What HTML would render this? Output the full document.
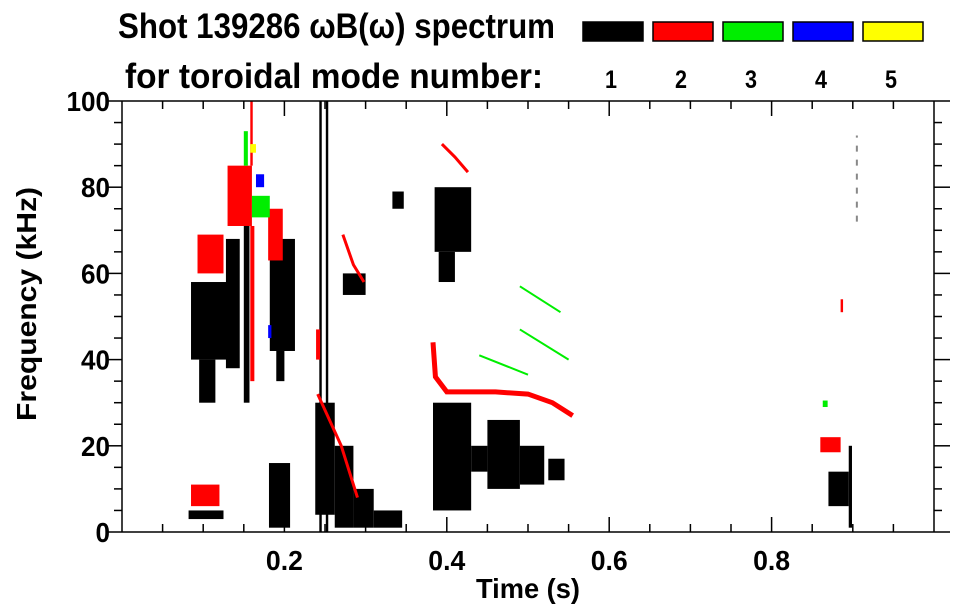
<!DOCTYPE html>
<html><head><meta charset="utf-8">
<style>
html,body{margin:0;padding:0;background:#fff;}
svg{display:block;font-family:"Liberation Sans",Arial,sans-serif;font-weight:bold;}
</style></head>
<body>
<svg id="chart" width="963" height="615" viewBox="0 0 963 615" xmlns="http://www.w3.org/2000/svg">
  <g>
    <text x="118" y="38" font-size="35" textLength="437" lengthAdjust="spacingAndGlyphs">Shot 139286 ωB(ω) spectrum</text>
    <text x="125" y="88" font-size="35" textLength="418" lengthAdjust="spacingAndGlyphs">for toroidal mode number:</text>
  </g>
  <g id="legend"></g>
  <g id="marks"></g>
  <g id="axes"></g>
  <text x="528" y="598" font-size="28" text-anchor="middle" textLength="104" lengthAdjust="spacingAndGlyphs">Time (s)</text>
  <text x="0" y="0" font-size="28" text-anchor="middle" textLength="234" lengthAdjust="spacingAndGlyphs" transform="translate(36,304) rotate(-90)">Frequency (kHz)</text>
</svg>
<script>
// ---- data ----
const modeNumbers = [1, 2, 3, 4, 5];
const modeColors = ["#000000", "#ff0000", "#00ee00", "#0000ff", "#ffff00"];
const xTicks = [0.2, 0.4, 0.6, 0.8];
const yTicks = [0, 20, 40, 60, 80, 100];
// rectangular regions of spectral power [t0, t1] s, [f0, f1] kHz, with mode number
const patchT0 = [0.085,0.095,0.128,0.150,0.182,0.190,0.082,0.181,0.243,0.251,0.238,0.262,0.285,0.310,0.272,0.333,0.385,0.390,0.383,0.430,0.450,0.490,0.525,0.870,0.895,
                 0.093,0.130,0.158,0.158,0.180,0.085,0.860,0.885,0.239,
                 0.160,0.863,0.150,
                 0.165,0.180,
                 0.158];
const patchT1 = [0.140,0.115,0.145,0.157,0.213,0.200,0.125,0.207,0.246,0.254,0.262,0.285,0.310,0.345,0.300,0.347,0.430,0.410,0.430,0.450,0.490,0.520,0.545,0.895,0.899,
                 0.125,0.160,0.163,0.161,0.198,0.120,0.885,0.888,0.244,
                 0.182,0.869,0.155,
                 0.175,0.184,
                 0.165];
const patchF0 = [40,30,38,30,42,35,3,1,0,0,4,1,1,1,55,75,65,58,5,14,10,11,12,6,1,
                 60,71,35,85,63,6,18.5,51,40,
                 73,29,85,
                 80,45,
                 88];
const patchF1 = [58,40,68,72,68,42,5,16,100,100,30,20,10,5,60,79,80,65,30,20,26,20,17,14,20,
                 69,85,71,100,75,11,22,54,47,
                 78,30.5,93,
                 83,48,
                 90];
const patchMode = [1,1,1,1,1,1,1,1,1,1,1,1,1,1,1,1,1,1,1,1,1,1,1,1,1,
                   2,2,2,2,2,2,2,2,2,
                   3,3,3,
                   4,4,
                   5];
// ridge lines (frequency chirps)
const ridgeMode = [2, 2, 2, 2, 3, 3, 3, 1];
const ridgeT = [[0.241,0.270,0.290],[0.272,0.285,0.298],[0.394,0.410,0.426],[0.383,0.386,0.400,0.460,0.500,0.530,0.555],[0.440,0.500],[0.490,0.550],[0.490,0.540],[0.905,0.905]];
const ridgeF = [[32,20,8],[69,62,58],[90,87,83.5],[44,36,32.5,32.5,32,30,27],[41,36.5],[47,40],[57,51],[72,92]];

// ---- geometry ----
const L=122,R=934,T=101,B=532;
const xs = t => L + t*(R-L);
const ys = f => B - f/100*(B-T);
const NS="http://www.w3.org/2000/svg";
function mk(tag, parent){const e=document.createElementNS(NS,tag);parent.appendChild(e);return e;}

const marks=document.getElementById('marks');
for(let i=0;i<patchT0.length;i++){
  const r=mk('rect',marks);
  
  
  const x0=xs(patchT0[i]),x1=xs(patchT1[i]),y0=ys(patchF1[i]),y1=ys(patchF0[i]);
  r.setAttribute('x',x0);r.setAttribute('y',y0);
  r.setAttribute('width',Math.max(1.5,x1-x0));r.setAttribute('height',Math.max(1.5,y1-y0));
  r.setAttribute('fill',modeColors[patchMode[i]-1]);
}
const ridgeWidths=[3,3,3,5,2,2,2,2];
for(let i=0;i<ridgeT.length;i++){
  const p=mk('polyline',marks);
  
  
  p.setAttribute('points',ridgeT[i].map((t,j)=>xs(t)+','+ys(ridgeF[i][j])).join(' '));
  p.setAttribute('fill','none');
  p.setAttribute('stroke', i===7 ? '#888' : modeColors[ridgeMode[i]-1]);
  p.setAttribute('stroke-width',ridgeWidths[i]);
  if(i===7) p.setAttribute('stroke-dasharray','6 8');
}

// ---- legend ----
const leg=document.getElementById('legend');
modeNumbers.forEach((m,i)=>{
  const bx=583+i*70;
  const r=mk('rect',leg);
  
  
  r.setAttribute('x',bx);r.setAttribute('y',22);r.setAttribute('width',60);r.setAttribute('height',19);
  r.setAttribute('fill',modeColors[i]);r.setAttribute('stroke','#000');r.setAttribute('stroke-width',1.5);
  const t=mk('text',leg);
  
  
  t.setAttribute('x',bx+28);t.setAttribute('y',88);t.setAttribute('font-size',25);t.setAttribute('text-anchor','middle');
  t.setAttribute('textLength',12);t.setAttribute('lengthAdjust','spacingAndGlyphs');
  t.textContent=m;
});

// ---- axes ----
const ax=document.getElementById('axes');
function line(x1,y1,x2,y2,name){const l=mk('line',ax);
  
  
  l.setAttribute('x1',x1);l.setAttribute('y1',y1);l.setAttribute('x2',x2);l.setAttribute('y2',y2);
  l.setAttribute('stroke','#000');l.setAttribute('stroke-width',1.5);}
line(L,T,R,T,'top-axis');line(L,B,R,B,'x-axis');line(L,T,L,B,'y-axis');line(R,T,R,B,'right-axis');
for(let k=1;k<20;k++){const t=k*0.05;const major=k%4===0;const len=major?15:8;
  line(xs(t),B,xs(t),B-len,'x-tick');line(xs(t),T,xs(t),T+len,'x-tick-top');}
for(let k=0;k<=20;k++){const f=k*5;const major=k%4===0;const len=major?16:8;
  line(L,ys(f),L-len,ys(f),'y-tick');line(R,ys(f),R+len,ys(f),'y-tick-right');}
xTicks.forEach(t=>{const e=mk('text',ax);
  
  
  e.setAttribute('x',xs(t));e.setAttribute('y',570);e.setAttribute('font-size',28);e.setAttribute('text-anchor','middle');
  e.setAttribute('textLength',37);e.setAttribute('lengthAdjust','spacingAndGlyphs');
  e.textContent=t.toFixed(1);});
yTicks.forEach(f=>{const e=mk('text',ax);
  
  
  e.setAttribute('x',110);e.setAttribute('y',ys(f)+10);e.setAttribute('font-size',28);e.setAttribute('text-anchor','end');
  e.setAttribute('textLength',String(f).length*14.5);e.setAttribute('lengthAdjust','spacingAndGlyphs');
  e.textContent=f;});
</script>
</body></html>
